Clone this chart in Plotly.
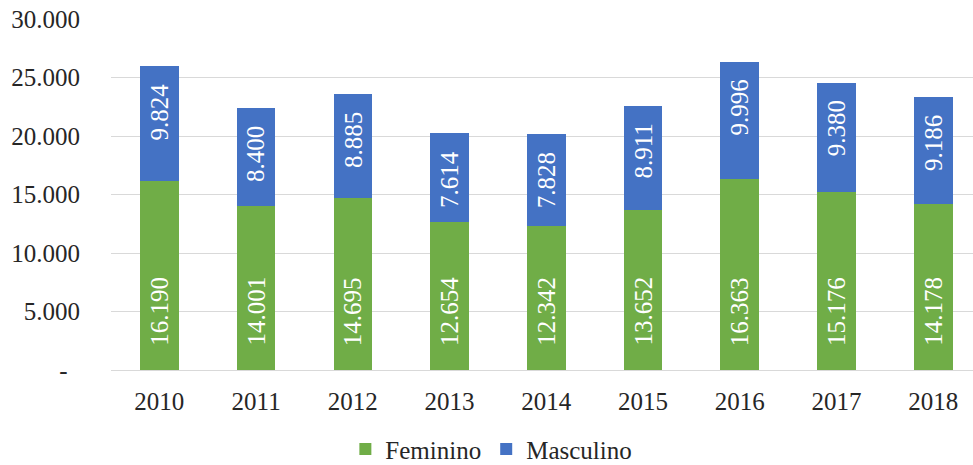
import plotly.graph_objects as go

years = ["2010", "2011", "2012", "2013", "2014", "2015", "2016", "2017", "2018"]
feminino = [16190, 14001, 14695, 12654, 12342, 13652, 16363, 15176, 14178]
masculino = [9824, 8400, 8885, 7614, 7828, 8911, 9996, 9380, 9186]
y_ticks = [0, 5000, 10000, 15000, 20000, 25000, 30000]
y_ticktext = ["-\u00a0\u00a0", "5.000", "10.000", "15.000", "20.000", "25.000", "30.000"]

GREEN = "#70AD47"
BLUE = "#4472C4"
FONT = "Liberation Serif"


def fmt(v):
    return f"{v:,}".replace(",", ".")


fig = go.Figure()
fig.add_trace(go.Bar(x=list(range(len(years))), y=feminino, name="Feminino",
                     marker=dict(color=GREEN, line=dict(width=0)), width=0.4))
fig.add_trace(go.Bar(x=list(range(len(years))), y=masculino, name="Masculino",
                     marker=dict(color=BLUE, line=dict(width=0)), width=0.4))

annotations = []
for i, (f, m) in enumerate(zip(feminino, masculino)):
    annotations.append(dict(x=i, y=0, xref="x", yref="y", text=fmt(f), textangle=-90,
                            showarrow=False, yanchor="bottom", xanchor="center", yshift=22,
                            font=dict(family=FONT, size=25, color="white")))
    annotations.append(dict(x=i, y=f + m, xref="x", yref="y", text=fmt(m), textangle=-90,
                            showarrow=False, yanchor="top", xanchor="center", yshift=-16,
                            font=dict(family=FONT, size=25, color="white")))

fig.update_layout(
    barmode="stack",
    width=973, height=465,
    margin=dict(l=111, r=0, t=19, b=95, pad=0, autoexpand=False),
    paper_bgcolor="white", plot_bgcolor="white",
    font=dict(family=FONT, size=25, color="#262626"),
    showlegend=True,
    legend=dict(orientation="h", xref="container", yref="paper", x=0.505, xanchor="center",
                y=-0.226, yanchor="middle", font=dict(family=FONT, size=25, color="#262626"),
                traceorder="normal", itemclick=False, tracegroupgap=0),
    annotations=annotations,
    hovermode=False,
    bargap=0.6,
)
fig.update_xaxes(
    tickmode="array", tickvals=list(range(len(years))), ticktext=years,
    range=[-0.5, 8.41], showgrid=False, showline=True, linecolor="#D9D9D9", linewidth=1,
    ticks="", ticklabelstandoff=9, zeroline=False, automargin=False,
    tickfont=dict(family=FONT, size=25, color="#262626"),
)
fig.update_yaxes(
    range=[0, 30000], tickmode="array", tickvals=y_ticks, ticktext=y_ticktext,
    showgrid=True, gridcolor="#D9D9D9", gridwidth=1, zeroline=False, showline=False,
    ticks="", ticklabelstandoff=30, automargin=False,
    tickfont=dict(family=FONT, size=25, color="#262626"),
)

fig.write_html(
    "out.html",
    config={"displayModeBar": False, "staticPlot": True},
    post_script="document.body.style.margin='0';document.body.style.overflow='hidden';",
)
